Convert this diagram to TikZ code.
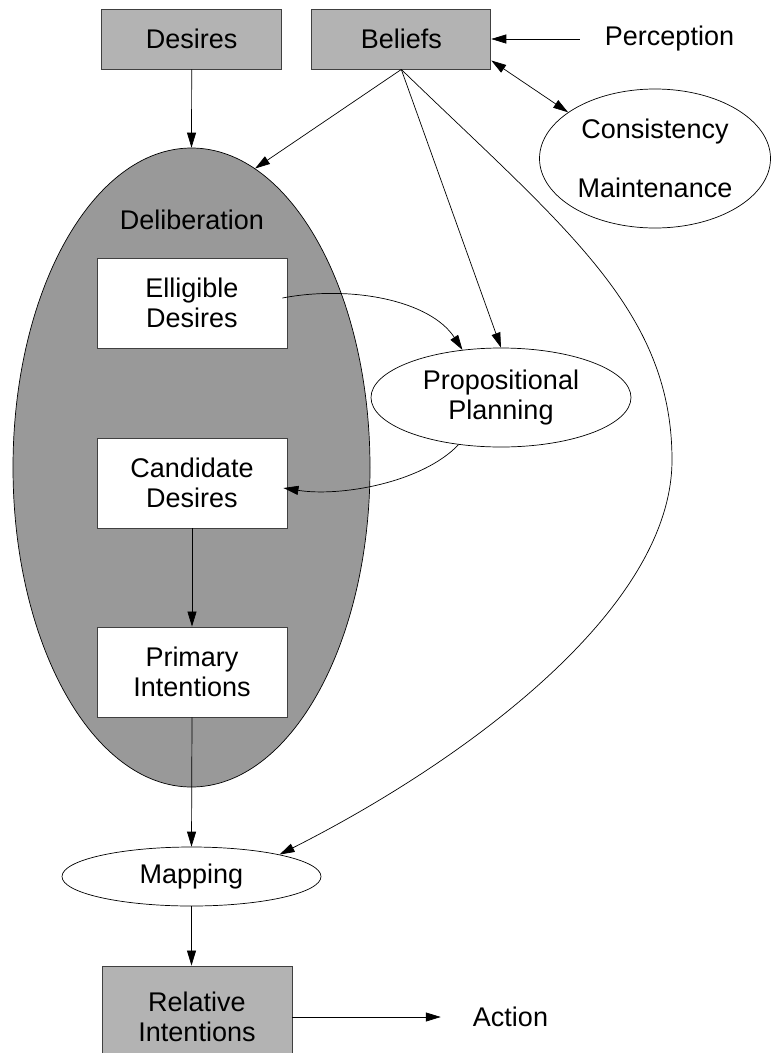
\documentclass[tikz,border=0pt]{standalone}
\usepackage{fontspec}
\setmainfont{Liberation Sans}
\usetikzlibrary{arrows.meta,shapes.geometric}
\definecolor{boxgray}{HTML}{B3B3B3}
\definecolor{delgray}{HTML}{999999}
\definecolor{edgegray}{HTML}{404040}
\begin{document}
\begin{tikzpicture}[x=1pt,y=-1pt,
  font=\fontsize{27}{30}\selectfont,
  graybox/.style={draw=edgegray, line width=0.9pt, fill=boxgray, minimum height=60pt, inner sep=0pt, align=center},
  whitebox/.style={draw=edgegray, line width=0.9pt, fill=white, minimum width=190pt, minimum height=90pt, inner sep=0pt, align=center},
  oval/.style={draw, ellipse, line width=0.7pt, fill=white, inner sep=0pt, align=center},
  plain/.style={inner sep=0pt, align=center},
  arr/.style={line width=0.7pt, -{Triangle[length=15pt,width=9pt]}},
  darr/.style={line width=0.7pt, {Triangle[length=15pt,width=9pt]}-{Triangle[length=15pt,width=9pt]}}
]
\useasboundingbox (0,0) rectangle (771,1053);
\clip (0,0) rectangle (771,1053);

% big deliberation ellipse
\node[draw, ellipse, line width=0.7pt, fill=delgray, minimum width=357pt, minimum height=639pt, inner sep=0pt] (delib) at (191.5,467.5) {};
\node[plain] (dlabel) at (192,220) {Deliberation};

% top boxes
\node[graybox, minimum width=180pt] (desires) at (191.7,39) {Desires};
\node[graybox, minimum width=179pt] (beliefs) at (401.3,39) {Beliefs};
\node[plain] (perc) at (669.5,39) {Perception};
\node[oval, minimum width=231pt, minimum height=139pt] (cons) at (655,158.5) {Consistency\\[29pt]Maintenance};

% inner boxes
\node[whitebox] (elig) at (192,303) {Elligible\\Desires};
\node[whitebox] (cand) at (192,483) {Candidate\\Desires};
\node[whitebox] (prim) at (192,672) {Primary\\Intentions};

\node[oval, minimum width=260pt, minimum height=99pt] (prop) at (501,397.5) {Propositional\\Planning};
\node[oval, minimum width=259pt, minimum height=59pt] (map) at (191.5,876.5) {Mapping};

\node[graybox, minimum width=190pt, minimum height=102pt] (rel) at (197,1017) {Relative\\Intentions};
\node[plain] (act) at (510.5,1017) {Action};

% connectors
\draw[arr] (desires.south) -- (delib.north);
\draw[arr] ([xshift=-25pt]perc.west) -- (beliefs.east);
\draw[darr] ([yshift=9pt]beliefs.south east) -- (cons.152);
\draw[arr] (beliefs.south) -- (delib.78);
\draw[arr] (beliefs.south) -- (prop.north);
\draw[arr] (beliefs.south) .. controls (565,228) and (672,310) .. (672,460)
  .. controls (672,610) and (463,762) .. (map.14);
\draw[arr] ([xshift=-5pt,yshift=5pt]elig.east) .. controls (350,285) and (430,300) .. (prop.129);
\draw[arr] (prop.228) .. controls (422,483) and (340,497) .. ([xshift=-4pt,yshift=-5pt]cand.east);
\draw[arr] (cand.south) -- (prim.north);
\draw[arr] (prim.south) -- (map.north);
\draw[arr] (map.south) -- (map.south |- rel.north);
\draw[arr] (rel.east) -- ([xshift=-32pt]act.west);
\end{tikzpicture}
\end{document}
